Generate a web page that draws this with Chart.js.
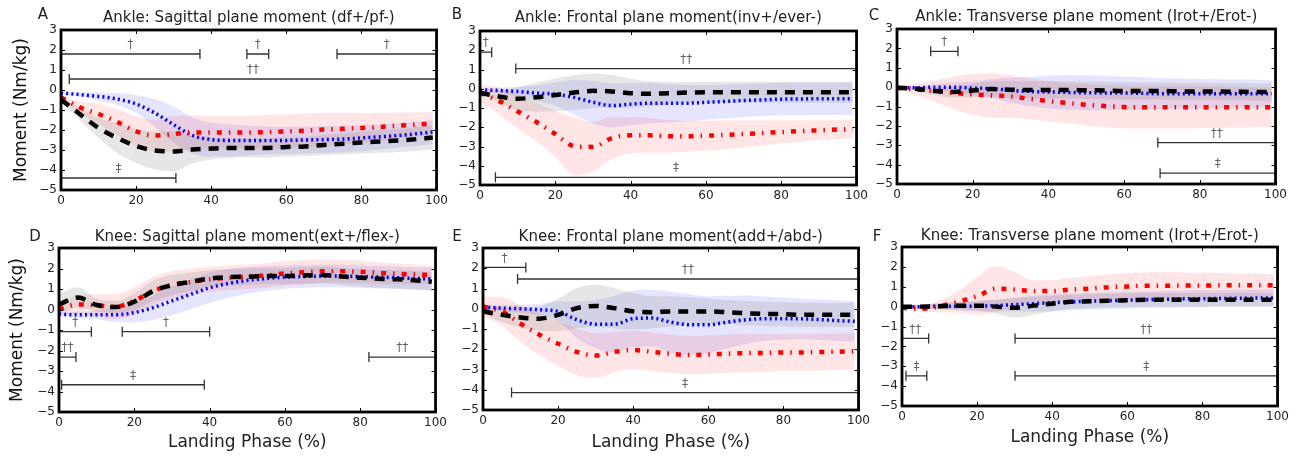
<!DOCTYPE html>
<html>
<head>
<meta charset="utf-8">
<script src="https://cdn.jsdelivr.net/npm/chart.js@4.4.1/dist/chart.umd.min.js"></script>
<style>
  html, body { margin: 0; padding: 0; background: #fff; }
  body { width: 1309px; height: 463px; position: relative; overflow: hidden; }
  .panel { position: absolute; }
</style>
</head>
<body>
<div class="panel" id="pA"><canvas id="cA"></canvas></div>
<div class="panel" id="pB"><canvas id="cB"></canvas></div>
<div class="panel" id="pC"><canvas id="cC"></canvas></div>
<div class="panel" id="pD"><canvas id="cD"></canvas></div>
<div class="panel" id="pE"><canvas id="cE"></canvas></div>
<div class="panel" id="pF"><canvas id="cF"></canvas></div>
<script>
// landing phase (%) sample points
const phase = [0,5,10,15,20,25,30,35,40,45,50,55,60,65,70,75,80,85,90,95,99];
const xTicks = [0,20,40,60,80,100];
const yTicks = [-5,-4,-3,-2,-1,0,1,2,3];

// A  ankle sagittal
const aBlack   = [-0.48,-1.2,-1.9,-2.4,-2.8,-3.03,-3.07,-2.98,-2.93,-2.9,-2.9,-2.9,-2.85,-2.82,-2.75,-2.69,-2.62,-2.57,-2.52,-2.45,-2.38];
const aBlackSd = [0.1,0.3,0.5,0.75,0.85,0.95,1.0,0.7,0.55,0.5,0.48,0.47,0.47,0.48,0.5,0.52,0.55,0.57,0.58,0.6,0.6];
const aRed     = [-0.37,-0.87,-1.2,-1.6,-2.07,-2.28,-2.2,-2.12,-2.12,-2.12,-2.12,-2.1,-2.07,-2.03,-1.98,-1.94,-1.9,-1.85,-1.78,-1.73,-1.68];
const aRedSd   = [0.1,0.3,0.5,0.65,0.75,0.8,0.9,0.85,0.82,0.82,0.83,0.85,0.85,0.85,0.83,0.8,0.75,0.7,0.65,0.6,0.58];
const aBlue    = [-0.15,-0.23,-0.32,-0.45,-0.7,-1.15,-1.73,-2.27,-2.48,-2.52,-2.52,-2.52,-2.52,-2.5,-2.48,-2.45,-2.4,-2.34,-2.27,-2.18,-2.1];
const aBlueSd  = [0.05,0.1,0.2,0.3,0.45,0.7,0.9,0.9,0.85,0.8,0.75,0.7,0.68,0.67,0.67,0.66,0.65,0.63,0.62,0.6,0.6];
const aBars = [[0,37,1.8,'†'],[49.5,55.3,1.8,'†'],[73.5,100,1.8,'†'],[2.2,100,0.55,'††'],[0,30.6,-4.4,'‡']];

// B  ankle frontal
const bBlack   = [-0.2,-0.4,-0.52,-0.44,-0.32,-0.2,-0.11,-0.14,-0.23,-0.26,-0.23,-0.2,-0.18,-0.18,-0.18,-0.18,-0.18,-0.18,-0.18,-0.18,-0.18];
const bBlackSd = [0.05,0.3,0.6,0.75,0.85,0.9,0.9,0.85,0.75,0.65,0.6,0.55,0.55,0.55,0.55,0.55,0.55,0.55,0.55,0.55,0.55];
const bRed     = [-0.2,-0.63,-1.18,-1.73,-2.35,-2.98,-3.02,-2.56,-2.42,-2.42,-2.47,-2.47,-2.44,-2.4,-2.35,-2.3,-2.25,-2.2,-2.16,-2.12,-2.08];
const bRedSd   = [0.45,0.7,0.9,1.0,1.2,1.5,1.3,1.1,0.95,0.9,0.85,0.8,0.78,0.75,0.7,0.65,0.6,0.55,0.52,0.5,0.5];
const bBlue    = [-0.06,-0.09,-0.14,-0.23,-0.28,-0.45,-0.7,-0.87,-0.8,-0.75,-0.75,-0.75,-0.71,-0.66,-0.61,-0.58,-0.54,-0.53,-0.52,-0.52,-0.52];
const bBlueSd  = [0.05,0.15,0.25,0.4,0.6,0.9,1.1,1.15,1.1,1.05,1.0,0.95,0.9,0.88,0.86,0.85,0.85,0.85,0.85,0.85,0.85];
const bBars = [[0,3.1,1.9,'†'],[9.5,100,1.05,'††'],[4.1,100,-4.6,'‡']];

// C  ankle transverse
const cBlack   = [-0.03,-0.08,-0.2,-0.25,-0.17,-0.1,-0.13,-0.15,-0.15,-0.15,-0.16,-0.17,-0.2,-0.2,-0.2,-0.22,-0.22,-0.23,-0.24,-0.25,-0.25];
const cBlackSd = [0.05,0.1,0.2,0.3,0.35,0.4,0.45,0.45,0.45,0.45,0.45,0.45,0.45,0.45,0.45,0.45,0.45,0.45,0.45,0.45,0.45];
const cRed     = [-0.03,-0.12,-0.2,-0.3,-0.37,-0.43,-0.48,-0.6,-0.72,-0.82,-0.91,-0.98,-1.03,-1.04,-1.04,-1.04,-1.04,-1.04,-1.04,-1.04,-1.04];
const cRedSd   = [0.1,0.3,0.55,0.85,1.05,1.15,1.1,1.05,1.05,1.05,1.07,1.08,1.1,1.1,1.1,1.1,1.08,1.07,1.05,1.03,1.0];
const cBlue    = [-0.03,-0.03,0,0,-0.05,-0.08,-0.17,-0.22,-0.25,-0.27,-0.29,-0.3,-0.3,-0.32,-0.34,-0.34,-0.34,-0.34,-0.34,-0.34,-0.34];
const cBlueSd  = [0.05,0.08,0.15,0.25,0.35,0.5,0.65,0.75,0.85,0.9,0.9,0.88,0.85,0.83,0.8,0.78,0.76,0.75,0.73,0.72,0.7];
const cBars = [[8.9,16.1,1.85,'†'],[68.9,100,-2.86,'††'],[69.5,100,-4.44,'‡']];

// D  knee sagittal
const dBlack   = [0.25,0.58,0.22,0.12,0.38,0.9,1.19,1.35,1.51,1.58,1.6,1.63,1.63,1.66,1.68,1.61,1.55,1.5,1.47,1.42,1.35];
const dBlackSd = [0.5,0.5,0.3,0.3,0.4,0.5,0.5,0.45,0.4,0.4,0.4,0.4,0.4,0.4,0.4,0.42,0.43,0.44,0.45,0.45,0.45];
const dRed     = [0.01,0.25,0.2,0.14,0.42,0.9,1.19,1.34,1.47,1.55,1.6,1.66,1.76,1.82,1.87,1.87,1.84,1.79,1.74,1.71,1.68];
const dRedSd   = [0.3,0.45,0.55,0.6,0.65,0.7,0.68,0.65,0.62,0.6,0.6,0.6,0.6,0.6,0.58,0.56,0.55,0.52,0.5,0.48,0.45];
const dBlue    = [-0.23,-0.26,-0.26,-0.26,-0.15,0.09,0.42,0.74,1.06,1.27,1.42,1.51,1.58,1.61,1.63,1.63,1.6,1.58,1.55,1.51,1.5];
const dBlueSd  = [0.1,0.15,0.2,0.35,0.48,0.6,0.7,0.73,0.73,0.7,0.65,0.6,0.57,0.55,0.55,0.55,0.55,0.55,0.55,0.55,0.55];
const dBars = [[0,8.6,-1.08,'†'],[16.8,40,-1.08,'†'],[0,4.5,-2.32,'††'],[82.3,100,-2.32,'††'],[0.7,38.6,-3.67,'‡']];

// E  knee frontal
const eBlack   = [-0.13,-0.3,-0.43,-0.49,-0.3,0.03,0.14,0.03,-0.13,-0.17,-0.13,-0.13,-0.13,-0.17,-0.22,-0.25,-0.27,-0.3,-0.3,-0.3,-0.3];
const eBlackSd = [0.1,0.35,0.5,0.6,0.8,1.0,1.05,1.0,0.9,0.8,0.75,0.7,0.65,0.6,0.6,0.6,0.6,0.6,0.6,0.6,0.6];
const eRed     = [0.11,-0.13,-0.74,-1.28,-1.73,-2.13,-2.31,-2.13,-2.04,-2.13,-2.22,-2.29,-2.26,-2.22,-2.19,-2.18,-2.16,-2.16,-2.14,-2.12,-2.1];
const eRedSd   = [0.5,0.7,0.9,1.0,1.1,1.15,1.1,1.0,0.95,0.95,0.95,0.95,0.95,0.95,0.95,0.93,0.92,0.92,0.91,0.9,0.9];
const eBlue    = [0.08,0.03,0,-0.05,-0.13,-0.54,-0.76,-0.76,-0.49,-0.46,-0.66,-0.79,-0.79,-0.66,-0.54,-0.49,-0.49,-0.5,-0.54,-0.59,-0.62];
const eBlueSd  = [0.1,0.15,0.2,0.3,0.5,0.9,1.2,1.4,1.4,1.4,1.5,1.5,1.4,1.3,1.2,1.1,1.05,1.0,1.0,1.0,1.0];
const eBars = [[0,11.4,2.04,'†'],[9.2,100,1.47,'††'],[7.6,100,-4.14,'‡']];

// F  knee transverse
const fBlack   = [-0.01,0,0.02,0.04,0.05,0,-0.06,0.05,0.15,0.24,0.27,0.3,0.32,0.34,0.34,0.34,0.34,0.34,0.34,0.34,0.34];
const fBlackSd = [0.05,0.1,0.15,0.2,0.25,0.35,0.5,0.45,0.4,0.35,0.35,0.35,0.35,0.35,0.35,0.35,0.35,0.35,0.35,0.35,0.35];
const fRed     = [-0.06,-0.11,0.02,0.24,0.53,0.9,0.86,0.78,0.78,0.86,0.91,0.98,1.01,1.05,1.05,1.06,1.06,1.07,1.07,1.08,1.08];
const fRedSd   = [0.1,0.15,0.3,0.55,0.95,1.15,0.9,0.55,0.55,0.6,0.62,0.65,0.68,0.68,0.68,0.66,0.64,0.62,0.6,0.58,0.55];
const fBlue    = [-0.01,0,0.02,0.02,0.02,0.05,0.1,0.15,0.2,0.24,0.27,0.3,0.32,0.35,0.37,0.39,0.4,0.41,0.42,0.43,0.44];
const fBlueSd  = [0.05,0.1,0.15,0.2,0.25,0.3,0.35,0.4,0.42,0.42,0.42,0.42,0.42,0.42,0.42,0.42,0.42,0.42,0.42,0.42,0.42];
const fBars = [[0,7.1,-1.6,'††'],[30.1,100,-1.6,'††'],[1.06,6.6,-3.48,'‡'],[30.1,100,-3.48,'‡']];

const FONT = '"DejaVu Sans", sans-serif';
Chart.defaults.font.family = FONT;

const pts = arr => phase.map((x, i) => ({x: x, y: arr[i]}));
const addSd = (m, s, k) => m.map((v, i) => v + k * s[i]);

function band(mean, sd, color){
  return [
    {data: pts(addSd(mean, sd, 1)), borderWidth: 0, pointRadius: 0, backgroundColor: color, fill: '+1', cubicInterpolationMode: 'monotone'},
    {data: pts(addSd(mean, sd, -1)), borderWidth: 0, pointRadius: 0, fill: false, cubicInterpolationMode: 'monotone'}
  ];
}

// frame with inward ticks on all four sides
const frame = {
  id: 'frame',
  afterDraw(chart){
    const {ctx, chartArea: a, scales} = chart;
    ctx.save();
    ctx.strokeStyle = '#000';
    ctx.lineWidth = 1;
    ctx.beginPath();
    xTicks.forEach(v => {
      const px = Math.round(scales.x.getPixelForValue(v)) + 0.5;
      ctx.moveTo(px, a.bottom); ctx.lineTo(px, a.bottom - 4);
      ctx.moveTo(px, a.top); ctx.lineTo(px, a.top + 4);
    });
    yTicks.forEach(v => {
      const py = Math.round(scales.y.getPixelForValue(v)) + 0.5;
      ctx.moveTo(a.left, py); ctx.lineTo(a.left + 4, py);
      ctx.moveTo(a.right, py); ctx.lineTo(a.right - 4, py);
    });
    ctx.stroke();
    ctx.lineWidth = 2.8;
    ctx.strokeRect(a.left, a.top, a.right - a.left, a.bottom - a.top);
    ctx.restore();
  }
};

// significance bars
const sigBars = {
  id: 'sigBars',
  afterDatasetsDraw(chart, args, opts){
    const {ctx, scales} = chart;
    ctx.save();
    ctx.strokeStyle = '#333';
    ctx.lineWidth = 1.3;
    ctx.fillStyle = '#666';
    ctx.font = '12px ' + FONT;
    ctx.textAlign = 'center';
    ctx.textBaseline = 'middle';
    opts.bars.forEach(([x0, x1, y, mark]) => {
      const p0 = scales.x.getPixelForValue(x0);
      const p1 = scales.x.getPixelForValue(x1);
      const py = scales.y.getPixelForValue(y);
      ctx.beginPath();
      ctx.moveTo(p0, py); ctx.lineTo(p1, py);
      ctx.moveTo(p0, py - 5); ctx.lineTo(p0, py + 5);
      ctx.moveTo(p1, py - 5); ctx.lineTo(p1, py + 5);
      ctx.stroke();
      ctx.fillText(mark, (p0 + p1) / 2, py - 9);
    });
    ctx.restore();
  }
};

// panel title and letter
const panelText = {
  id: 'panelText',
  afterDraw(chart, args, opts){
    const {ctx, chartArea: a} = chart;
    ctx.save();
    ctx.fillStyle = '#222';
    ctx.textAlign = 'center';
    ctx.textBaseline = 'middle';
    ctx.font = '15px ' + FONT;
    ctx.fillText(opts.title, (a.left + a.right) / 2, a.top + opts.titleDy);
    ctx.font = '15px ' + FONT;
    ctx.fillText(opts.letter, a.left + opts.letterDx, a.top + opts.letterDy);
    ctx.restore();
  }
};

const panels = [
  {id: 'A', title: 'Ankle: Sagittal plane moment (df+/pf-)', L: 61, R: 438, T: 30, B: 190, cl: 0, ct: 0, cb: 222,
   black: aBlack, blackSd: aBlackSd, red: aRed, redSd: aRedSd, blue: aBlue, blueSd: aBlueSd, bars: aBars,
   yTitlePad: 11.5, letterDx: -18, letterDy: -15, titleDy: -12},
  {id: 'B', title: 'Ankle: Frontal plane moment(inv+/ever-)', L: 480, R: 858, T: 31, B: 185, cl: 440, ct: 0, cb: 222,
   black: bBlack, blackSd: bBlackSd, red: bRed, redSd: bRedSd, blue: bBlue, blueSd: bBlueSd, bars: bBars,
   letterDx: -23, letterDy: -16, titleDy: -12.5},
  {id: 'C', title: 'Ankle: Transverse plane moment (Irot+/Erot-)', L: 897, R: 1277, T: 29, B: 184, cl: 857, ct: 0, cb: 222,
   black: cBlack, blackSd: cBlackSd, red: cRed, redSd: cRedSd, blue: cBlue, blueSd: cBlueSd, bars: cBars,
   letterDx: -23, letterDy: -13, titleDy: -12},
  {id: 'D', title: 'Knee: Sagittal plane moment(ext+/flex-)', L: 59, R: 437, T: 248, B: 412, cl: 0, ct: 222, cb: 463,
   black: dBlack, blackSd: dBlackSd, red: dRed, redSd: dRedSd, blue: dBlue, blueSd: dBlueSd, bars: dBars,
   yTitlePad: 7.8, xTitlePad: 9.8, letterDx: -24, letterDy: -10.5, titleDy: -10.5},
  {id: 'E', title: 'Knee: Frontal plane moment(add+/abd-)', L: 483, R: 860, T: 248, B: 410, cl: 443, ct: 222, cb: 463,
   black: eBlack, blackSd: eBlackSd, red: eRed, redSd: eRedSd, blue: eBlue, blueSd: eBlueSd, bars: eBars,
   xTitlePad: 10.3, letterDx: -26, letterDy: -10.5, titleDy: -10.5},
  {id: 'F', title: 'Knee: Transverse plane moment (Irot+/Erot-)', L: 902, R: 1279, T: 247, B: 406, cl: 862, ct: 222, cb: 463,
   black: fBlack, blackSd: fBlackSd, red: fRed, redSd: fRedSd, blue: fBlue, blueSd: fBlueSd, bars: fBars,
   xTitlePad: 15.3, letterDx: -25, letterDy: -10.3, titleDy: -10.5}
];

const PR = 14;

panels.forEach(p => {
  const box = document.getElementById('p' + p.id);
  box.style.left = p.cl + 'px';
  box.style.top = p.ct + 'px';
  box.style.width = (p.R + PR - p.cl) + 'px';
  box.style.height = (p.cb - p.ct) + 'px';

  const yw = p.L - p.cl;
  const xh = p.cb - p.B;
  const tickFont = {family: FONT, size: 12};

  new Chart(document.getElementById('c' + p.id), {
    type: 'line',
    data: {
      datasets: [
        {data: pts(p.black), borderColor: '#000', borderWidth: 4.5, borderDash: [10, 8], pointRadius: 0, fill: false, cubicInterpolationMode: 'monotone'},
        {data: pts(p.red), borderColor: '#ff0000', borderWidth: 4.5, borderDash: [5, 7, 1.5, 7], pointRadius: 0, fill: false, cubicInterpolationMode: 'monotone'},
        {data: pts(p.blue), borderColor: '#0000ff', borderWidth: 3.5, borderDash: [2, 3.2], pointRadius: 0, fill: false, cubicInterpolationMode: 'monotone'},
        ...band(p.black, p.blackSd, 'rgba(128,128,128,0.2)'),
        ...band(p.red, p.redSd, 'rgba(255,0,0,0.1)'),
        ...band(p.blue, p.blueSd, 'rgba(0,0,255,0.1)')
      ]
    },
    options: {
      responsive: true,
      maintainAspectRatio: false,
      animation: false,
      events: [],
      layout: {padding: {top: p.T - p.ct, right: PR, left: 0, bottom: 0}},
      scales: {
        x: {
          type: 'linear', min: 0, max: 100,
          afterFit: s => { s.height = xh; },
          afterBuildTicks: s => { s.ticks = xTicks.map(v => ({value: v})); },
          ticks: {color: '#222', font: tickFont, padding: 4, maxRotation: 0},
          grid: {display: false, drawTicks: false},
          border: {display: false},
          title: {display: p.xTitlePad !== undefined, text: 'Landing Phase (%)', color: '#222',
                  font: {family: FONT, size: 17}, padding: {top: 0, bottom: p.xTitlePad || 0}}
        },
        y: {
          min: -5, max: 3,
          afterFit: s => { s.width = yw; },
          afterBuildTicks: s => { s.ticks = yTicks.map(v => ({value: v})); },
          ticks: {color: '#222', font: tickFont, padding: 4,
                  callback: v => String(v).replace('-', '\u2212')},
          grid: {display: false, drawTicks: false},
          border: {display: false},
          title: {display: p.yTitlePad !== undefined, text: 'Moment (Nm/kg)', color: '#111',
                  font: {family: FONT, size: 17}, padding: {top: p.yTitlePad || 0, bottom: 0}}
        }
      },
      plugins: {
        legend: {display: false},
        tooltip: {enabled: false},
        filler: {propagate: false, drawTime: 'beforeDatasetsDraw'},
        sigBars: {bars: p.bars},
        panelText: {title: p.title, letter: p.id, letterDx: p.letterDx, letterDy: p.letterDy, titleDy: p.titleDy}
      }
    },
    plugins: [sigBars, frame, panelText]
  });
});
</script>
</body>
</html>
